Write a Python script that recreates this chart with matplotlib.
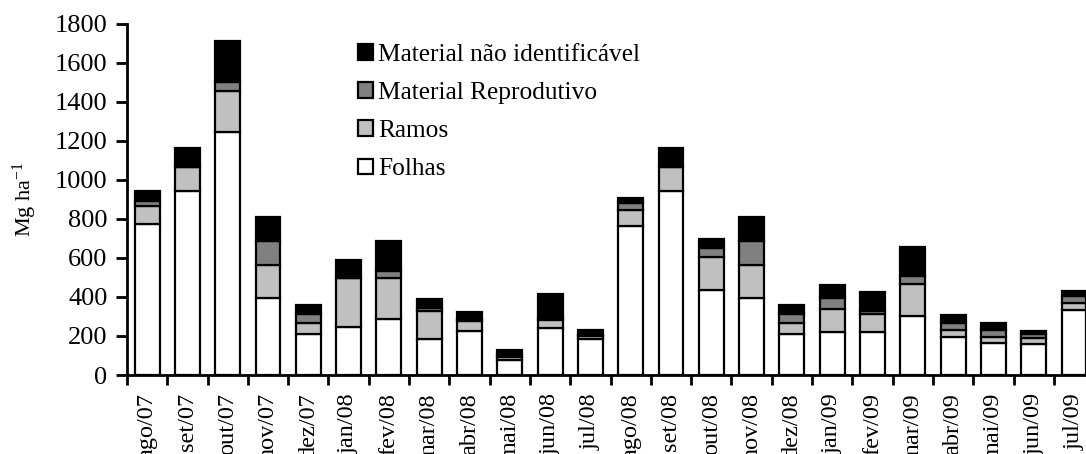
#!/usr/bin/env python3
import matplotlib
matplotlib.use('Agg')
import matplotlib.pyplot as plt
import numpy as np

# Dados (Mg ha-1)
meses = ['ago/07', 'set/07', 'out/07', 'nov/07', 'dez/07', 'jan/08', 'fev/08', 'mar/08',
         'abr/08', 'mai/08', 'jun/08', 'jul/08', 'ago/08', 'set/08', 'out/08', 'nov/08',
         'dez/08', 'jan/09', 'fev/09', 'mar/09', 'abr/09', 'mai/09', 'jun/09', 'jul/09']
folhas = [771, 942, 1242, 393, 210, 247, 285, 183, 225, 77, 239, 183,
          763, 942, 435, 393, 210, 219, 222, 304, 193, 162, 157, 333]
ramos = [96, 121, 212, 170, 55, 248, 210, 145, 51, 15, 43, 17,
         82, 121, 171, 170, 55, 119, 89, 162, 37, 34, 31, 37]
reprodutivo = [24, 0, 48, 123, 46, 0, 37, 13, 11, 9, 8, 5,
               34, 0, 46, 123, 46, 58, 17, 41, 38, 34, 20, 34]
nao_ident = [51, 101, 208, 125, 47, 94, 154, 48, 34, 27, 123, 25,
             26, 101, 43, 125, 47, 65, 95, 150, 39, 35, 19, 26]

plt.rcParams['font.family'] = ['Liberation Serif', 'DejaVu Serif']
plt.rcParams['mathtext.fontset'] = 'custom'
plt.rcParams['mathtext.rm'] = 'Liberation Serif'
plt.rcParams['mathtext.default'] = 'regular'

fig = plt.figure(figsize=(10.86, 4.54), dpi=100)
ax = fig.add_axes([0.1169, 0.174, 0.8906, 0.7742])

x = np.arange(len(meses))
w = 0.62
series = [(folhas, 'white', 'Folhas'),
          (ramos, '#c0c0c0', 'Ramos'),
          (reprodutivo, '#808080', 'Material Reprodutivo'),
          (nao_ident, 'black', 'Material não identificável')]
base = np.zeros(len(meses))
handles = []
for vals, cor, nome in series:
    b = ax.bar(x, vals, w, bottom=base, color=cor, edgecolor='black',
               linewidth=1.6, label=nome)
    handles.append(b)
    base += np.array(vals)

ax.set_xlim(-0.5, len(meses) - 0.5)
ax.set_ylim(0, 1800)
ax.set_yticks(range(0, 1801, 200))
ax.tick_params(axis='y', labelsize=19, width=2, length=8, direction='out', pad=6)

ax.set_xticks(x)
ax.set_xticklabels(meses, rotation=90, fontsize=17.5)
ax.tick_params(axis='x', which='major', length=0, pad=13)
ax.set_xticks(np.arange(-0.5, len(meses), 1), minor=True)
ax.tick_params(axis='x', which='minor', length=7, width=2, direction='out')

for s in ['top', 'right']:
    ax.spines[s].set_visible(False)
for s in ['left', 'bottom']:
    ax.spines[s].set_linewidth(2)

ax.set_ylabel('Mg ha$^{-1}$', fontsize=16, labelpad=11)

leg = ax.legend(handles[::-1], [h.get_label() for h in handles[::-1]],
                loc='upper left', bbox_to_anchor=(0.318, 0.932),
                bbox_transform=fig.transFigure, frameon=False, fontsize=18.3,
                handlelength=0.58, handleheight=0.58, handletextpad=0.22,
                labelspacing=0.64, borderpad=0)

fig.savefig('out.png', dpi=100)
